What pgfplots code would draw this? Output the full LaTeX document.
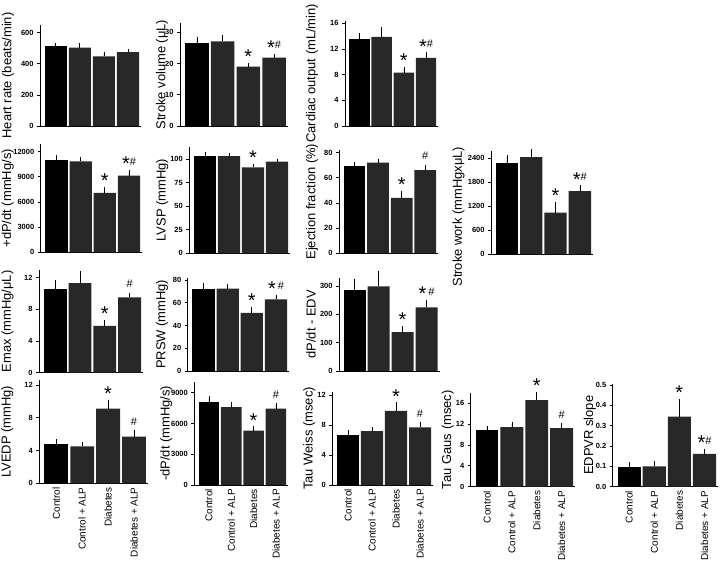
\documentclass[border=0pt]{standalone}
\usepackage{pgfplots}
\pgfplotsset{compat=1.18}
\usepackage{fontspec}
\setmainfont{Liberation Sans}
\definecolor{bargray}{RGB}{40,40,40}

% significance marks: s = *, h = #, b = *#, g = * #
\newcommand\sstar{\raisebox{-5.5bp}{\fontsize{20}{20}\selectfont*}}
\newcommand\hs{{\fontsize{11}{11}\selectfont\#}}
\newcommand\mk[1]{\if s#1\sstar\fi\if h#1\hs\fi\if b#1\sstar\hs\fi\if g#1\sstar\hspace{2bp}\hs\fi}

\pgfplotsset{
  panel/.style={
    scale only axis, clip=false, anchor=south west,
    axis x line*=bottom, axis y line*=left,
    axis line style={line width=0.8bp,-},
    xmin=-0.655, xmax=3.54, ymin=0,
    xtick=\empty,
    tick align=outside, major tick length=3bp,
    ytick style={line width=0.8bp, black},
    yticklabel style={font=\bfseries\fontsize{7.5}{8}\selectfont,
      /pgf/number format/assume math mode=true,
      /pgf/number format/1000 sep={}},
    scaled y ticks=false,
    label style={font=\fontsize{13}{14}\selectfont},
  },
  yl/.style={ylabel style={at={([xshift=-#1bp]axis description cs:0,0.5)}, anchor=center}},
  bot/.style={xtick={0,1,2,3},
    xticklabels={Control, Control + ALP, Diabetes, Diabetes + ALP},
    x tick style={draw=none},
    xticklabel style={rotate=90, anchor=east, inner sep=1bp,
      font=\fontsize{10}{11}\selectfont}},
  ctl/.style={ybar, bar width=0.92, bar shift=0pt, fill=black, draw=none,
    error bars/y dir=plus, error bars/y explicit,
    error bars/error bar style={black, line width=0.7bp},
    error bars/error mark options={black, line width=0.7bp, mark size=1.6bp}},
  trt/.style={ctl, fill=bargray},
  sig/.style={draw=none, mark=none, point meta=explicit symbolic,
    nodes near coords={\mk{\pgfplotspointmeta}},
    every node near coord/.append style={anchor=base, yshift=6.5bp, inner sep=0pt, text=black}},
}

\begin{document}
\begin{tikzpicture}
\path[use as bounding box] (0,0) rectangle (720bp,-566bp);

% ---- row 1
\begin{axis}[panel, at={(40bp,-126bp)}, width=101bp, height=101bp,
  ymax=650, ytick={0,200,400,600}, ylabel={Heart rate (beats/min)}, yl=32]
\addplot[ctl] coordinates {(0,515) +- (0,12)};
\addplot[trt] coordinates {(1,505) +- (0,20) (2,448) +- (0,20) (3,475) +- (0,12)};
\end{axis}

\begin{axis}[panel, at={(180bp,-126bp)}, width=108bp, height=102.7bp,
  ymax=32.9, ytick={0,10,20,30}, ylabel={Stroke volume (μL)}, yl=18]
\addplot[ctl] coordinates {(0,26.5) +- (0,1.6)};
\addplot[trt] coordinates {(1,27.1) +- (0,1.5) (2,19) +- (0,0.6) (3,21.9) +- (0,0.8)};
\addplot[sig] coordinates {(2,19.6)[s] (3,22.7)[b]};
\end{axis}

\begin{axis}[panel, at={(345bp,-126bp)}, width=93bp, height=105.3bp,
  ymax=16.4, ytick={0,4,8,12,16}, ylabel={Cardiac output (mL/min)}, yl=33]
\addplot[ctl] coordinates {(0,13.5) +- (0,0.8)};
\addplot[trt] coordinates {(1,13.9) +- (0,1.2) (2,8.3) +- (0,0.6) (3,10.6) +- (0,0.6)};
\addplot[sig] coordinates {(2,8.9)[s] (3,11.2)[b]};
\end{axis}

% ---- row 2
\begin{axis}[panel, at={(40.7bp,-252.3bp)}, width=101.3bp, height=108bp,
  ymax=12880, ytick={0,3000,6000,9000,12000}, ylabel={+dP/dt (mmHg/s)}, yl=33]
\addplot[ctl] coordinates {(0,11000) +- (0,400)};
\addplot[trt] coordinates {(1,10850) +- (0,350) (2,7100) +- (0,450) (3,9150) +- (0,450)};
\addplot[sig] coordinates {(2,7550)[s] (3,9600)[b]};
\end{axis}

\begin{axis}[panel, at={(189.3bp,-253.3bp)}, width=100.7bp, height=106.6bp,
  ymax=113.4, ytick={0,25,50,75,100}, ylabel={LVSP (mmHg)}, yl=27]
\addplot[ctl] coordinates {(0,104) +- (0,2)};
\addplot[trt] coordinates {(1,103.5) +- (0,1.5) (2,91.5) +- (0,2) (3,97.5) +- (0,1.2)};
\addplot[sig] coordinates {(2,93.5)[s]};
\end{axis}

\begin{axis}[panel, at={(339bp,-253.3bp)}, width=99bp, height=103.3bp,
  ymax=82, ytick={0,20,40,60,80}, ylabel={Ejection fraction (\%)}, yl=27]
\addplot[ctl] coordinates {(0,69.5) +- (0,2)};
\addplot[trt] coordinates {(1,72) +- (0,1.5) (2,44) +- (0,4.5) (3,66) +- (0,3)};
\addplot[sig] coordinates {(2,48.5)[s] (3,69)[h]};
\end{axis}

\begin{axis}[panel, at={(491bp,-254.3bp)}, width=102bp, height=103.3bp,
  ymax=2580, ytick={0,600,1200,1800,2400}, ylabel={Stroke work (mmHgxμL)},
  ylabel style={at={([xshift=-32.5bp,yshift=-14bp]axis description cs:0,0.5)}, anchor=center}]
\addplot[ctl] coordinates {(0,2280) +- (0,150)};
\addplot[trt] coordinates {(1,2430) +- (0,160) (2,1040) +- (0,235) (3,1580) +- (0,100)};
\addplot[sig] coordinates {(2,1275)[s] (3,1680)[b]};
\end{axis}

% ---- row 3
\begin{axis}[panel, at={(39bp,-372.7bp)}, width=104bp, height=102.7bp,
  ymax=12.97, ytick={0,4,8,12}, ylabel={Emax (mmHg/μL)}, yl=31.5]
\addplot[ctl] coordinates {(0,10.6) +- (0,0.9)};
\addplot[trt] coordinates {(1,11.3) +- (0,1.4) (2,5.9) +- (0,0.55) (3,9.5) +- (0,0.4)};
\addplot[sig] coordinates {(2,6.45)[s] (3,9.9)[h]};
\end{axis}

\begin{axis}[panel, at={(187.7bp,-371bp)}, width=101.3bp, height=93.3bp,
  ymax=82, ytick={0,20,40,60,80}, ylabel={PRSW (mmHg)}, yl=25.7]
\addplot[ctl] coordinates {(0,72) +- (0,3.5)};
\addplot[trt] coordinates {(1,72.5) +- (0,2.8) (2,51) +- (0,3.5) (3,63) +- (0,2.5)};
\addplot[sig] coordinates {(2,54.5)[s] (3,65.5)[g]};
\end{axis}

\begin{axis}[panel, at={(339bp,-371bp)}, width=100.5bp, height=93.3bp,
  ymax=329, ytick={0,100,200,300}, ylabel={dP/dt - EDV}, yl=28]
\addplot[ctl] coordinates {(0,285) +- (0,33)};
\addplot[trt] coordinates {(1,298) +- (0,48) (2,137) +- (0,15) (3,224) +- (0,20)};
\addplot[sig] coordinates {(2,152)[s] (3,244)[g]};
\end{axis}

% ---- row 4
\begin{axis}[panel, bot, at={(39.3bp,-483.3bp)}, width=108.7bp, height=103.3bp,
  ymax=12.6, ytick={0,4,8,12}, ylabel={LVEDP (mmHg)}, yl=32]
\addplot[ctl] coordinates {(0,4.8) +- (0,0.4)};
\addplot[trt] coordinates {(1,4.5) +- (0,0.4) (2,9.1) +- (0,0.9) (3,5.7) +- (0,0.6)};
\addplot[sig] coordinates {(2,10)[s] (3,6.3)[h]};
\end{axis}

\begin{axis}[panel, bot, at={(194.3bp,-485bp)}, width=93.7bp, height=103.3bp,
  ymax=10070, ytick={0,3000,6000,9000}, ylabel={-dP/dt (mmHg/s)}, yl=28]
\addplot[ctl] coordinates {(0,8100) +- (0,400)};
\addplot[trt] coordinates {(1,7600) +- (0,300) (2,5300) +- (0,250) (3,7450) +- (0,350)};
\addplot[sig] coordinates {(2,5550)[s] (3,7800)[h]};
\end{axis}

\begin{axis}[panel, bot, at={(332.3bp,-485bp)}, width=100.7bp, height=93.3bp,
  ymax=12.44, ytick={0,4,8,12}, ylabel={Tau Weiss (msec)}, yl=23]
\addplot[ctl] coordinates {(0,6.7) +- (0,0.4)};
\addplot[trt] coordinates {(1,7.2) +- (0,0.35) (2,9.9) +- (0,0.9) (3,7.7) +- (0,0.5)};
\addplot[sig] coordinates {(2,10.8)[s] (3,8.2)[h]};
\end{axis}

\begin{axis}[panel, bot, at={(470.7bp,-486.7bp)}, width=104.3bp, height=94bp,
  ymax=18, ytick={0,4,8,12,16}, ylabel={Tau Gaus (msec)}, yl=23]
\addplot[ctl] coordinates {(0,10.8) +- (0,0.6)};
\addplot[trt] coordinates {(1,11.4) +- (0,0.6) (2,16.6) +- (0,1.3) (3,11.2) +- (0,0.6)};
\addplot[sig] coordinates {(2,17.9)[s] (3,11.8)[h]};
\end{axis}

\begin{axis}[panel, bot, at={(612.7bp,-486.7bp)}, width=105.3bp, height=102.7bp,
  ymax=0.505, ytick={0,0.1,0.2,0.3,0.4,0.5}, ylabel={EDPVR slope}, yl=23,
  yticklabel style={/pgf/number format/fixed, /pgf/number format/fixed zerofill,
    /pgf/number format/precision=1}]
\addplot[ctl] coordinates {(0,0.097) +- (0,0.017)};
\addplot[trt] coordinates {(1,0.1) +- (0,0.018) (2,0.345) +- (0,0.078) (3,0.162) +- (0,0.016)};
\addplot[sig] coordinates {(2,0.423)[s] (3,0.178)[b]};
\end{axis}
\end{tikzpicture}
\end{document}
